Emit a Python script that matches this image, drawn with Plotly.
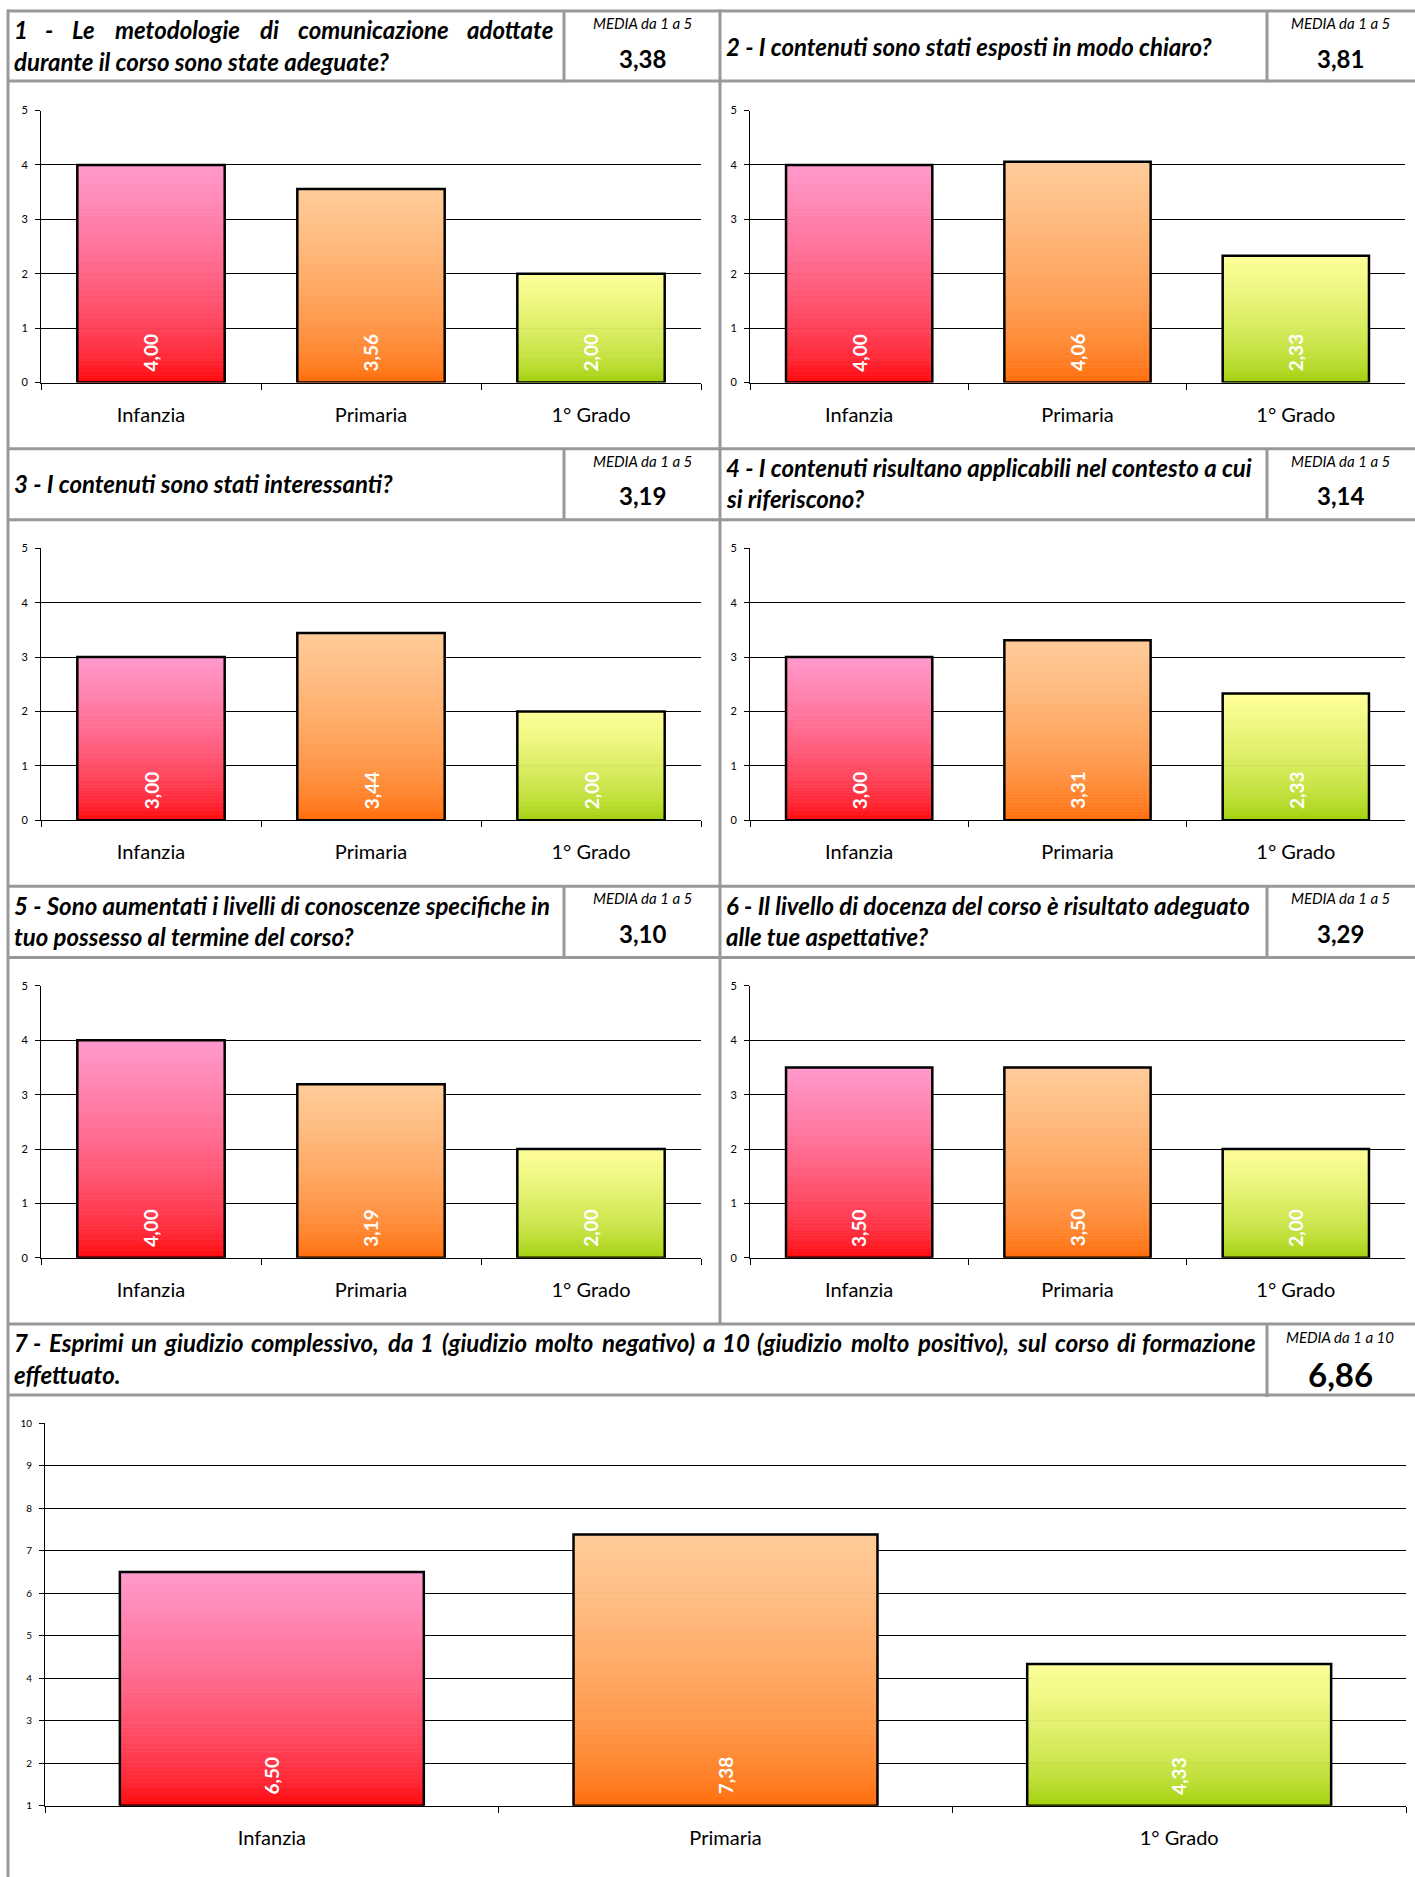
import plotly.graph_objects as go

W, H = 1415, 1877

# ---------------- data ----------------
categories = ["Infanzia", "Primaria", "1° Grado"]
q1_values = [4.00, 3.56, 2.00]
q2_values = [4.00, 4.06, 2.33]
q3_values = [3.00, 3.44, 2.00]
q4_values = [3.00, 3.31, 2.33]
q5_values = [4.00, 3.19, 2.00]
q6_values = [3.50, 3.50, 2.00]
q7_values = [6.50, 7.38, 4.33]
series = [q1_values, q2_values, q3_values, q4_values, q5_values, q6_values, q7_values]
means = ["3,38", "3,81", "3,19", "3,14", "3,10", "3,29", "6,86"]
media_labels = ["MEDIA da 1 a 5"] * 6 + ["MEDIA da 1 a 10"]
question_lines = [
    ["1 - Le metodologie di comunicazione adottate", "durante il corso sono state adeguate?"],
    ["2 - I contenuti sono stati esposti in modo chiaro?"],
    ["3 - I contenuti sono stati interessanti?"],
    ["4 - I contenuti risultano applicabili nel contesto a cui", "si riferiscono?"],
    ["5 - Sono aumentati i livelli di conoscenze specifiche in", "tuo possesso al termine del corso?"],
    ["6 - Il livello di docenza del corso è risultato adeguato", "alle tue aspettative?"],
    ["7 - Esprimi un giudizio complessivo, da 1 (giudizio molto negativo) a 10 (giudizio molto positivo), sul corso di formazione",
     "effettuato."],
]
y_ranges = [[0, 5]] * 6 + [[1, 10]]

top_colors = ["#FF99CC", "#FFCC99", "#FFFF99"]
bottom_colors = ["#FF0000", "#FF6600", "#99CC00"]

FONT = "Lato"
BORDER = "#999999"
JUSTIFY_FIRST = [True, False, False, False, False, False, True]

# vertical calibration of the page capture
Y_SCALE, Y_OFF = 1.0085, -7.1


# ---------------- helpers ----------------
def px(x):
    return x / W


def py(y):
    return 1 - (y * Y_SCALE + Y_OFF) / H


def hex2rgb(h):
    h = h.lstrip("#")
    return tuple(int(h[i:i + 2], 16) for i in (0, 2, 4))


def mix(c1, c2, t):
    a, b = hex2rgb(c1), hex2rgb(c2)
    return "rgb(%d,%d,%d)" % tuple(round(a[i] + (b[i] - a[i]) * t) for i in range(3))


WID = {
    " ": .193, "-": .34, ",": .23, ".": .23, "?": .42, "(": .30, ")": .30, "°": .40,
    "a": .514, "b": .562, "c": .47, "d": .562, "e": .528, "f": .343, "g": .51, "h": .562,
    "i": .25, "j": .25, "k": .53, "l": .25, "m": .836, "n": .562, "o": .56, "p": .562,
    "q": .562, "r": .38, "s": .436, "t": .37, "u": .562, "v": .52, "w": .78, "x": .52,
    "y": .52, "z": .46, "è": .528, "I": .29, "L": .47, "S": .50, "E": .54,
}
WSCALE = 0.955


def tw(s, size):
    return sum(WID.get(c, .58 if c.isdigit() else .55) for c in s) * size * WSCALE


# ---------------- geometry (pixels) ----------------
panels = []
for i in range(6):
    row, col = divmod(i, 2)
    T = 11 + 437 * row
    if col == 0:
        panels.append(dict(T=T, px0=41, px1=701, pt=110.5 + 437 * row, pb=382 + 437 * row,
                           tl=12, tr=555, mx=642))
    else:
        panels.append(dict(T=T, px0=750, px1=1405, pt=110.5 + 437 * row, pb=382 + 437 * row,
                           tl=724, tr=1258, mx=1340))
panels.append(dict(T=1322, px0=45, px1=1406, pt=1421, pb=1803, tl=12, tr=1258, mx=1340))

fig = go.Figure()
annotations = []
shapes = []
N = 60
HEAD_SIZE = 24

for p_i, (p, vals) in enumerate(zip(panels, series)):
    n = p_i + 1
    xa = "x" if n == 1 else "x%d" % n
    ya = "y" if n == 1 else "y%d" % n
    b0 = y_ranges[p_i][0]
    # gradient bar segments
    for k in range(N):
        s = (k + 0.5) / N
        t = s ** 0.6
        cols = [mix(bottom_colors[c], top_colors[c], t) for c in range(3)]
        fig.add_trace(go.Bar(
            x=categories,
            y=[(v - b0) / N for v in vals],
            base=[b0 + (v - b0) * k / N for v in vals],
            marker=dict(color=cols, line=dict(color=cols, width=0.8)),
            xaxis=xa, yaxis=ya, hoverinfo="skip", showlegend=False,
        ))
    # outline
    fig.add_trace(go.Bar(
        x=categories, y=[v - b0 for v in vals], base=[b0] * 3,
        marker=dict(color="rgba(0,0,0,0)", line=dict(color="black", width=2.5)),
        xaxis=xa, yaxis=ya, hoverinfo="skip", showlegend=False,
    ))
    for c, v in zip(categories, vals):
        annotations.append(dict(
            x=c, y=b0, xref=xa, yref=ya, text=("%.2f" % v).replace(".", ","),
            textangle=-90, showarrow=False, xanchor="center", yanchor="bottom",
            yshift=9, font=dict(family=FONT, size=19, color="white", weight="bold"),
        ))

    axis_key = "xaxis" if n == 1 else "xaxis%d" % n
    yaxis_key = "yaxis" if n == 1 else "yaxis%d" % n
    fig.update_layout(**{
        axis_key: dict(
            domain=[px(p["px0"]), px(p["px1"])], anchor=ya, type="category",
            range=[-0.5, 2.5], showline=True, linecolor="black", linewidth=1,
            ticks="outside", tickson="boundaries", ticklen=6, tickcolor="black",
            tickfont=dict(family=FONT, size=20, color="black"), ticklabelstandoff=14,
            showgrid=False, fixedrange=True,
        ),
        yaxis_key: dict(
            domain=[py(p["pb"]), py(p["pt"])], anchor=xa, range=y_ranges[p_i],
            tick0=y_ranges[p_i][0], dtick=1, showline=True, linecolor="black", linewidth=1,
            ticks="outside", ticklen=5, tickcolor="black", ticklabelstandoff=5,
            tickfont=dict(family=FONT, size=11 if n < 7 else 10, color="black"),
            showgrid=True, gridcolor="#000000", gridwidth=1, zeroline=False, fixedrange=True,
        ),
    })

    # header text
    T = p["T"]
    lines = question_lines[p_i]
    if len(lines) == 1:
        ys = [T + 35]
    else:
        ys = [T + 19, T + 50]
    for li, (line, yy) in enumerate(zip(lines, ys)):
        hfont = dict(family=FONT, size=HEAD_SIZE, color="black", weight="bold", style="italic")
        words = line.split(" ")
        if li == 0 and len(lines) == 2 and JUSTIFY_FIRST[p_i]:
            ws = [tw(w_, HEAD_SIZE) for w_ in words]
            gap = (p["tr"] - p["tl"] - sum(ws)) / (len(words) - 1)
            cur = p["tl"]
            for wi, (word, wd) in enumerate(zip(words, ws)):
                if wi == 0:
                    xx, anc = cur, "left"
                elif wi == len(words) - 1:
                    xx, anc = p["tr"], "right"
                else:
                    xx, anc = cur + wd / 2, "center"
                annotations.append(dict(x=px(xx), y=py(yy), xref="paper", yref="paper",
                                        text=word, showarrow=False, xanchor=anc,
                                        yanchor="middle", font=hfont))
                cur += wd + gap
        else:
            annotations.append(dict(x=px(p["tl"]), y=py(yy), xref="paper", yref="paper",
                                    text=line, showarrow=False, xanchor="left",
                                    yanchor="middle", font=hfont))
    # media box
    annotations.append(dict(x=px(p["mx"]), y=py(T + 12 if n < 7 else T + 13), xref="paper", yref="paper",
                            text=media_labels[p_i], showarrow=False, xanchor="center", yanchor="middle",
                            font=dict(family=FONT, size=15, color="black", style="italic")))
    annotations.append(dict(x=px(p["mx"]), y=py(T + 47 if n < 7 else T + 50), xref="paper", yref="paper",
                            text=means[p_i], showarrow=False, xanchor="center", yanchor="middle",
                            font=dict(family=FONT, size=24 if n < 7 else 33, color="black", weight="bold")))


def hline(y, x0, x1):
    shapes.append(dict(type="line", xref="paper", yref="paper", x0=px(x0), x1=px(x1),
                       y0=py(y), y1=py(y), line=dict(color=BORDER, width=3)))


def vline(x, y0, y1):
    shapes.append(dict(type="line", xref="paper", yref="paper", x0=px(x), x1=px(x),
                       y0=py(y0), y1=py(y1), line=dict(color=BORDER, width=3)))


for r in range(4):
    T = 11 + 437 * r
    hline(T, 7, 1415)
    hline(T + 70 + (1 if r > 0 else 0), 7, 1415)
vline(8, 9.5, 1890)
vline(720, 9.5, 1322)
for r in range(3):
    T = 11 + 437 * r
    vline(564, T, T + 71)
    vline(1267, T, T + 71)
vline(1267, 1322, 1395)

fig.update_layout(
    width=W, height=H, autosize=False,
    margin=dict(l=0, r=0, t=0, b=0),
    paper_bgcolor="white", plot_bgcolor="white",
    barmode="overlay", bargap=0.33,
    showlegend=False,
    annotations=annotations, shapes=shapes,
    font=dict(family=FONT, color="black"),
)

fig.write_html(
    "out.html",
    config={"displayModeBar": False, "responsive": False},
    post_script=(
        "document.body.style.margin='0';document.body.style.padding='0';"
        "var d=document.getElementById('{plot_id}');"
        "d.style.position='fixed';d.style.left='0px';d.style.top='0px';"
        "document.documentElement.style.overflow='hidden';"
    ),
)
